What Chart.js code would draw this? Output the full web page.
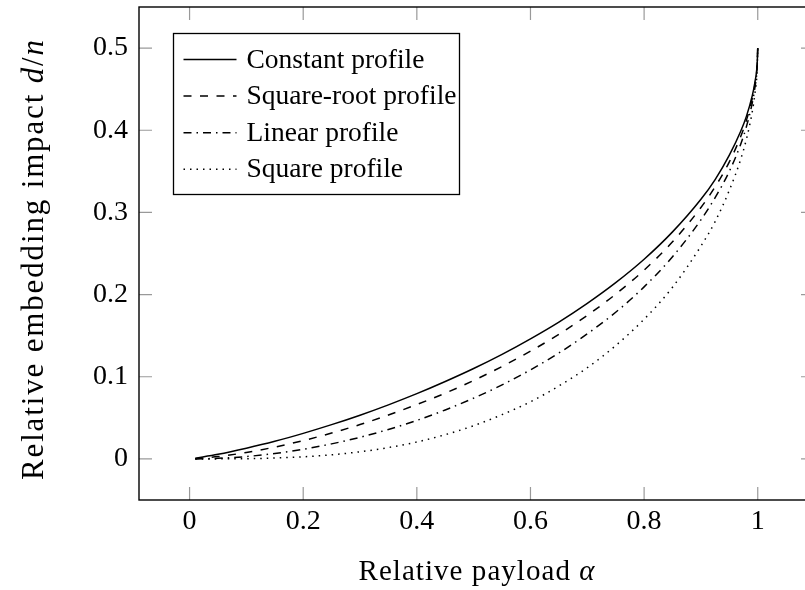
<!DOCTYPE html>
<html lang="en">
<head>
<meta charset="UTF-8">
<title>Embedding impact versus payload</title>
<script src="https://cdn.jsdelivr.net/npm/chart.js"></script>
<style>
  html, body { margin: 0; padding: 0; background: #fff; overflow: hidden; }
  #wrap { width: 830px; height: 590px; }
</style>
</head>
<body>
<div id="wrap"><canvas id="impactChart" width="830" height="590"></canvas></div>
<script>
// relative payload alpha (shared by all four curves)
const payload = [0.01, 0.05, 0.1, 0.15, 0.2, 0.25, 0.3, 0.35, 0.4, 0.45, 0.5, 0.55, 0.6,
  0.65, 0.7, 0.75, 0.8, 0.85, 0.9, 0.925, 0.95, 0.97, 0.98, 0.99, 0.995, 0.999, 1];

// relative embedding impact d/n for each cost profile
const constantProfile = [0.0009, 0.0056, 0.0130, 0.0214, 0.0311, 0.0417, 0.0532, 0.0658, 0.0794,
  0.0942, 0.1100, 0.1272, 0.1461, 0.1665, 0.1893, 0.2145, 0.2430, 0.2763, 0.3160, 0.3400,
  0.3697, 0.3987, 0.4169, 0.4411, 0.4584, 0.4814, 0.5];
const sqrtProfile = [0.0003, 0.0028, 0.0079, 0.0144, 0.0223, 0.0315, 0.0418, 0.0534, 0.0662,
  0.0800, 0.0955, 0.1125, 0.1311, 0.1517, 0.1747, 0.2005, 0.2298, 0.2642, 0.3060, 0.3312,
  0.3615, 0.3924, 0.4120, 0.4377, 0.4559, 0.4803, 0.5];
const linearProfile = [0.00003, 0.0007, 0.0029, 0.0066, 0.0117, 0.0183, 0.0263, 0.0359, 0.0469,
  0.0596, 0.0740, 0.0901, 0.1084, 0.1289, 0.1522, 0.1785, 0.2094, 0.2461, 0.2910, 0.3180,
  0.3500, 0.3830, 0.4043, 0.4322, 0.4521, 0.4785, 0.5];
const squareProfile = [0, 0.00004, 0.0003, 0.0011, 0.0026, 0.0050, 0.0087, 0.0138, 0.0206,
  0.0295, 0.0404, 0.0539, 0.0695, 0.0888, 0.1110, 0.1380, 0.1700, 0.2090, 0.2590, 0.2889,
  0.3270, 0.3646, 0.3890, 0.4212, 0.4446, 0.4750, 0.5];

const seriesLabels = ['Constant profile', 'Square-root profile', 'Linear profile', 'Square profile'];

const xTickValues = [0, 0.2, 0.4, 0.6, 0.8, 1];
const xTickLabels = ['0', '0.2', '0.4', '0.6', '0.8', '1'];
const yTickValues = [0, 0.1, 0.2, 0.3, 0.4, 0.5];
const yTickLabels = ['0', '0.1', '0.2', '0.3', '0.4', '0.5'];

// axis titles as [text, italic] pieces
const xTitle = [['Relative payload ', false], ['\u03b1', true]];
const yTitle = [['Relative embedding impact ', false], ['d', true], ['/', false], ['n', true]];

const FAMILY = "'Liberation Serif', 'Times New Roman', serif";
const FONT_SIZE = 28;
const TICK_LEN = 13;

const dashes = [[], [8, 8.5], [8, 5, 1.5, 5], [1.5, 5]];
const profiles = [constantProfile, sqrtProfile, linearProfile, squareProfile];

const toPoints = vals => payload.map((a, i) => ({ x: a, y: vals[i] }));

// draws mixed upright/italic pieces centred on cx, spread out to the given width
function drawParts(ctx, parts, cx, baseY, size, span) {
  const fonts = parts.map(p => (p[1] ? 'italic ' : '') + size + 'px ' + FAMILY);
  ctx.letterSpacing = '0px';
  const widths = parts.map((p, i) => { ctx.font = fonts[i]; return ctx.measureText(p[0]).width; });
  const natural = widths.reduce((s, w) => s + w, 0);
  const nChars = parts.reduce((s, p) => s + p[0].length, 0);
  const spacing = Math.max(0, (span - natural) / (nChars - 1));
  let x = cx - (natural + spacing * (nChars - 1)) / 2;
  ctx.textAlign = 'left';
  ctx.textBaseline = 'alphabetic';
  ctx.letterSpacing = spacing.toFixed(2) + 'px';
  parts.forEach((p, i) => {
    ctx.font = fonts[i];
    ctx.fillText(p[0], x, baseY);
    x += widths[i] + spacing * p[0].length;
  });
  ctx.letterSpacing = '0px';
}

const frameAndLegend = {
  id: 'frameAndLegend',
  afterDatasetsDraw(chart) {
    const { ctx, chartArea: a, scales: { x, y } } = chart;
    ctx.save();

    // tick marks inside the frame, on all four sides
    ctx.strokeStyle = 'rgba(0,0,0,0.4)';
    ctx.lineWidth = 1.2;
    ctx.beginPath();
    x.ticks.forEach(t => {
      const px = x.getPixelForValue(t.value);
      ctx.moveTo(px, a.bottom); ctx.lineTo(px, a.bottom - TICK_LEN);
      ctx.moveTo(px, a.top); ctx.lineTo(px, a.top + TICK_LEN);
    });
    y.ticks.forEach(t => {
      const py = y.getPixelForValue(t.value);
      ctx.moveTo(a.left, py); ctx.lineTo(a.left + TICK_LEN, py);
      ctx.moveTo(a.right, py); ctx.lineTo(a.right - TICK_LEN, py);
    });
    ctx.stroke();

    // axis frame
    ctx.strokeStyle = '#000';
    ctx.lineWidth = 1.4;
    ctx.strokeRect(a.left, a.top, a.right - a.left, a.bottom - a.top);

    // legend box in the upper left corner
    const lx = 173.5, ly = 33.5, lw = 286, lh = 161, rowH = 36.6;
    ctx.fillStyle = '#fff';
    ctx.fillRect(lx, ly, lw, lh);
    ctx.lineWidth = 1.3;
    ctx.strokeRect(lx, ly, lw, lh);
    chart.data.datasets.forEach((ds, i) => {
      const ry = ly + 26 + i * rowH;
      ctx.beginPath();
      ctx.setLineDash(ds.borderDash);
      ctx.lineWidth = ds.borderWidth;
      ctx.strokeStyle = ds.borderColor;
      ctx.moveTo(lx + 10, ry);
      ctx.lineTo(lx + 63, ry);
      ctx.stroke();
      ctx.setLineDash([]);
      ctx.fillStyle = '#000';
      ctx.font = '27.5px ' + FAMILY;
      ctx.textAlign = 'left';
      ctx.textBaseline = 'alphabetic';
      ctx.fillText(ds.label, lx + 73, ry + 8);
    });

    // axis titles
    ctx.fillStyle = '#000';
    drawParts(ctx, xTitle, (a.left + a.right) / 2, 580, 29, 236);
    ctx.translate(43, 260);
    ctx.rotate(-Math.PI / 2);
    drawParts(ctx, yTitle, 0, 0, 31, 440);

    ctx.restore();
  }
};

Chart.defaults.font.family = FAMILY;
Chart.defaults.font.size = FONT_SIZE;
Chart.defaults.color = '#000';

new Chart(document.getElementById('impactChart'), {
  type: 'line',
  data: {
    datasets: profiles.map((vals, i) => ({
      label: seriesLabels[i],
      data: toPoints(vals),
      borderColor: '#000',
      borderWidth: 1.5,
      borderDash: dashes[i],
      pointRadius: 0,
      fill: false,
      cubicInterpolationMode: 'monotone'
    }))
  },
  options: {
    responsive: false,
    animation: false,
    layout: { padding: { left: 0, top: 7, right: 16, bottom: 0 } },
    plugins: { legend: { display: false }, tooltip: { enabled: false } },
    scales: {
      x: {
        type: 'linear',
        min: -0.0890,
        max: 1.0990,
        grid: { display: false, drawTicks: false },
        border: { display: false },
        afterBuildTicks: s => { s.ticks = xTickValues.map(v => ({ value: v })); },
        afterFit: s => { s.height = 90; s.paddingLeft = 0; s.paddingRight = 0; },
        ticks: { padding: 5, maxRotation: 0, callback: (v, i) => xTickLabels[i] }
      },
      y: {
        type: 'linear',
        min: -0.05,
        max: 0.55,
        grid: { display: false, drawTicks: false },
        border: { display: false },
        afterBuildTicks: s => { s.ticks = yTickValues.map(v => ({ value: v })); },
        afterFit: s => { s.width = 139; s.paddingTop = 0; s.paddingBottom = 0; },
        ticks: { padding: 11, callback: (v, i) => yTickLabels[i] }
      }
    }
  },
  plugins: [frameAndLegend]
});
</script>
</body>
</html>
